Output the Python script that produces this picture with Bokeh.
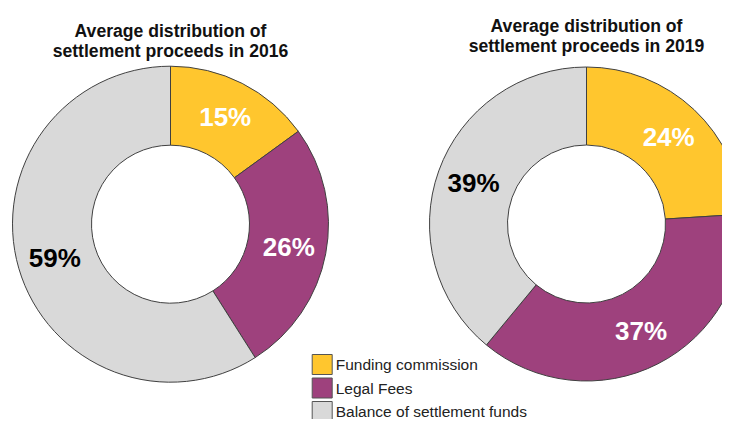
import math
from bokeh.plotting import figure
from bokeh.models import Range1d, ColumnDataSource
from bokeh.core.properties import value
from bokeh.embed import file_html
from bokeh.resources import INLINE

categories = ["Funding commission", "Legal Fees", "Balance of settlement funds"]
colors = ["#FFC62E", "#9E417D", "#D9D9D9"]
label_colors = ["white", "white", "black"]
years = ["2016", "2019"]
shares_2016 = [15, 26, 59]
shares_2019 = [24, 37, 39]
titles = [["Average distribution of", "settlement proceeds in 2016"],
          ["Average distribution of", "settlement proceeds in 2019"]]

W, H = 722, 419
p = figure(width=W, height=H, output_backend="svg", toolbar_location=None,
           x_range=Range1d(0, W), y_range=Range1d(0, H), min_border=0)
p.axis.visible = False
p.grid.visible = False
p.outline_line_color = None
p.background_fill_color = "white"
p.border_fill_color = "white"

def sy(y):  # picture y -> data y
    return H - y

centers = [(170, sy(223.7)), (586, sy(223.5))]
outer = [158, 157]
inner = 79
title_base = [(30.7, 50.2), (25.3, 45.3)]

for k, shares in enumerate([shares_2016, shares_2019]):
    cx, cy = centers[k]
    total = sum(shares)
    cum = 0
    starts, ends, lx, ly, txt = [], [], [], [], []
    for s in shares:
        a0 = math.pi / 2 - 2 * math.pi * cum / total
        a1 = math.pi / 2 - 2 * math.pi * (cum + s) / total
        starts.append(a0)
        ends.append(a1)
        mid = (a0 + a1) / 2
        rl = (inner + outer[k]) / 2 + 2
        lx.append(cx + rl * math.cos(mid))
        ly.append(cy + rl * math.sin(mid))
        txt.append(f"{s}%")
        cum += s
    src = ColumnDataSource(dict(start=starts, end=ends, color=colors,
                                lx=lx, ly=ly, txt=txt, tc=label_colors))
    p.annular_wedge(x=cx, y=cy, inner_radius=inner, outer_radius=outer[k],
                    start_angle="start", end_angle="end", direction="clock",
                    fill_color="color", line_color="#404040", line_width=1,
                    source=src)
    p.text(x="lx", y="ly", text="txt", text_color="tc", source=src,
           text_font=value("Liberation Sans"), text_font_style="bold",
           text_font_size="26px", text_align="center", text_baseline="middle")
    for j, line in enumerate(titles[k]):
        p.text(x=[cx], y=[sy(title_base[k][j])], text=[line],
               text_font=value("Liberation Sans"), text_font_style="bold",
               text_font_size="17.6px", text_color="#111111",
               text_align="center", text_baseline="alphabetic")

# legend
leg_x = 321.7
leg_y0 = sy(364)
step = 23.5
ly_ = [leg_y0 - i * step for i in range(len(categories))]
lsrc = ColumnDataSource(dict(x=[leg_x] * 3, y=ly_, color=colors, lab=categories,
                             tx=[leg_x + 13.5] * 3))
p.rect(x="x", y="y", width=20, height=20, fill_color="color",
       line_color="#555555", line_width=1, source=lsrc)
p.text(x="tx", y="y", text="lab", source=lsrc, text_font=value("Liberation Sans"),
       text_font_size="15.5px", text_color="#222222", text_align="left",
       text_baseline="middle")

open("out.html", "w").write(file_html(p, INLINE))
